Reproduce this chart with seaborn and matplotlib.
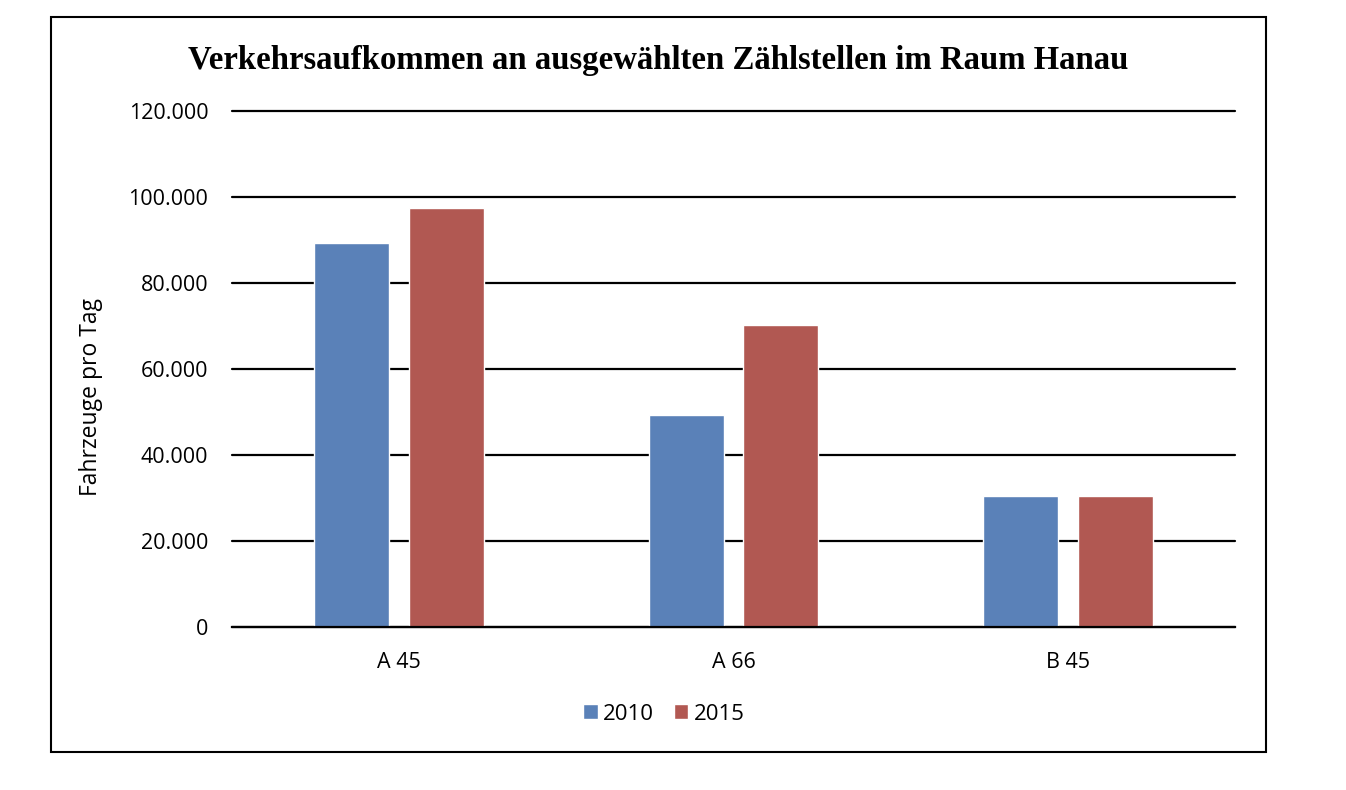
import pandas as pd
import numpy as np
import matplotlib
matplotlib.use('Agg')
import matplotlib.pyplot as plt
import seaborn as sns
from matplotlib.patches import Rectangle
from matplotlib.ticker import FuncFormatter

# Daten
stellen = ['A 45', 'A 66', 'B 45']
jahre = ['2010', '2015']
werte_2010 = [89400, 49300, 30400]
werte_2015 = [97400, 70200, 30500]
farben = ['#5a81b8', '#b15852']

df = pd.DataFrame({
    'Zählstelle': stellen * 2,
    'Jahr': [jahre[0]] * 3 + [jahre[1]] * 3,
    'Fahrzeuge': werte_2010 + werte_2015,
})

sns.set_style('white')
plt.rcParams['font.family'] = ['Open Sans', 'DejaVu Sans']
plt.rcParams['text.color'] = 'black'
plt.rcParams['axes.labelcolor'] = 'black'
plt.rcParams['xtick.color'] = 'black'
plt.rcParams['ytick.color'] = 'black'

fig = plt.figure(figsize=(13.46, 7.9), dpi=100)
ax = fig.add_axes([232 / 1346, 1 - 627 / 790, (1235 - 232) / 1346, (627 - 111) / 790])

sns.barplot(data=df, x='Zählstelle', y='Fahrzeuge', hue='Jahr', palette=farben,
            width=0.568, gap=0.21, saturation=1, ax=ax, legend=True)

ax.set_ylim(0, 120000)
ax.set_yticks(np.arange(0, 120001, 20000))
ax.yaxis.set_major_formatter(FuncFormatter(lambda v, p: f'{int(v):,}'.replace(',', '.')))
ax.grid(axis='y', color='black', linewidth=1.6)
for gl in ax.get_ygridlines():
    gl.set_clip_on(False)
ax.set_axisbelow(True)
for s in ['top', 'right', 'left']:
    ax.spines[s].set_visible(False)
ax.spines['bottom'].set_color('black')
ax.spines['bottom'].set_linewidth(1.6)
ax.tick_params(axis='y', length=0, labelsize=15.5, pad=17)
ax.tick_params(axis='x', length=0, labelsize=15.5, pad=18)
ax.set_xlabel('')
ax.set_ylabel('Fahrzeuge pro Tag', fontsize=16.5)
ax.yaxis.set_label_coords((103 - 232) / 1003, (627 - 397) / 516)

ax.get_legend().remove()
handles, labels = ax.get_legend_handles_labels()
fig.legend(handles, labels, loc='center', bbox_to_anchor=(664 / 1346, 1 - 714 / 790), ncol=2,
           frameon=False, fontsize=16, handlelength=0.64, handleheight=0.64, handletextpad=0.25,
           columnspacing=0.9)

fig.text(658 / 1346, 1 - 61 / 790, 'Verkehrsaufkommen an ausgewählten Zählstellen im Raum Hanau',
         ha='center', va='center', fontsize=23.6, fontweight='bold',
         family=['Liberation Serif', 'DejaVu Serif'])

fig.patches.append(Rectangle((51 / 1346, 1 - 752 / 790), (1266 - 51) / 1346, (752 - 17) / 790,
                             transform=fig.transFigure, fill=False, edgecolor='black', linewidth=1.5))

fig.savefig('out.png', dpi=100, facecolor='white')
